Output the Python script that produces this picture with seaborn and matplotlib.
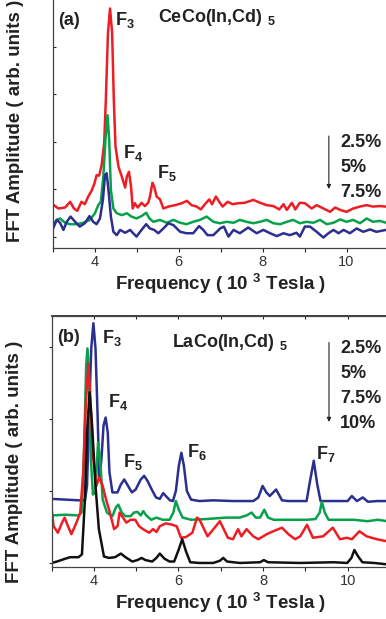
import matplotlib
matplotlib.use("Agg")
import matplotlib.pyplot as plt
import seaborn as sns

# ---- panel (a): CeCo(In,Cd)5, FFT spectra (freq in 10^3 T, amplitude in arb. units)
a_red_x = [3.00, 3.14, 3.30, 3.42, 3.51, 3.59, 3.69, 3.77, 3.85, 3.93, 4.00, 4.05, 4.11, 4.17,
           4.23, 4.27, 4.32, 4.37, 4.42, 4.46, 4.50, 4.57, 4.65, 4.73, 4.77, 4.82, 4.87, 4.91,
           4.96, 5.03, 5.12, 5.20, 5.28, 5.32, 5.38, 5.42, 5.48, 5.56, 5.64, 5.76, 5.92, 6.08,
           6.20, 6.31, 6.43, 6.53, 6.63, 6.73, 6.80, 6.89, 6.97, 7.05, 7.17, 7.29, 7.42, 7.58,
           7.78, 7.94, 8.10, 8.26, 8.40, 8.50, 8.58, 8.70, 8.78, 8.89, 9.01, 9.17, 9.29, 9.45,
           9.61, 9.73, 9.85, 10.00, 10.16, 10.32, 10.48, 10.63, 10.79, 10.94]
a_red_y = [0.69, 0.60, 0.62, 0.74, 0.60, 0.55, 0.74, 0.69, 0.85, 0.97, 1.13, 1.30, 1.29, 1.51,
           1.97, 2.88, 4.28, 4.80, 4.28, 2.88, 1.90, 1.48, 1.27, 1.04, 1.27, 1.37, 1.06, 0.60,
           0.71, 0.62, 0.72, 0.65, 0.72, 0.85, 1.14, 1.06, 0.85, 0.79, 0.60, 0.64, 0.67, 0.71,
           0.76, 0.67, 0.64, 0.58, 0.69, 0.79, 0.69, 0.85, 0.74, 0.64, 0.74, 0.69, 0.71, 0.72,
           0.78, 0.72, 0.67, 0.65, 0.58, 0.69, 0.57, 0.72, 0.58, 0.72, 0.71, 0.60, 0.67, 0.60,
           0.53, 0.62, 0.57, 0.53, 0.60, 0.64, 0.67, 0.64, 0.65, 0.64]

a_green_x = [3.00, 3.10, 3.18, 3.30, 3.42, 3.58, 3.73, 3.89, 4.01, 4.09, 4.15, 4.21, 4.26, 4.31,
             4.35, 4.39, 4.45, 4.53, 4.65, 4.77, 4.88, 5.00, 5.12, 5.23, 5.31, 5.40, 5.56, 5.72,
             5.88, 6.04, 6.19, 6.35, 6.51, 6.67, 6.83, 6.99, 7.15, 7.31, 7.46, 7.62, 7.78, 7.94,
             8.10, 8.26, 8.42, 8.58, 8.73, 8.89, 9.05, 9.21, 9.37, 9.53, 9.69, 9.85, 10.00,
             10.16, 10.32, 10.48, 10.63, 10.79, 10.94]
a_green_y = [0.23, 0.36, 0.39, 0.30, 0.27, 0.27, 0.30, 0.36, 0.50, 0.67, 0.74, 1.27, 2.04, 2.56,
             2.04, 0.99, 0.60, 0.50, 0.46, 0.50, 0.43, 0.39, 0.44, 0.51, 0.39, 0.32, 0.36, 0.30,
             0.36, 0.30, 0.27, 0.32, 0.36, 0.43, 0.32, 0.29, 0.32, 0.30, 0.36, 0.32, 0.29, 0.32,
             0.36, 0.29, 0.27, 0.32, 0.36, 0.29, 0.32, 0.30, 0.36, 0.27, 0.30, 0.37, 0.32,
             0.36, 0.29, 0.39, 0.32, 0.34, 0.30]

a_blue_x = [3.00, 3.10, 3.18, 3.26, 3.34, 3.43, 3.54, 3.65, 3.77, 3.88, 3.97, 4.05, 4.13, 4.20,
            4.25, 4.29, 4.34, 4.39, 4.45, 4.53, 4.61, 4.73, 4.85, 4.92, 5.00, 5.12, 5.23, 5.32,
            5.42, 5.52, 5.64, 5.76, 5.88, 6.04, 6.19, 6.35, 6.49, 6.59, 6.69, 6.83, 6.99, 7.08,
            7.19, 7.31, 7.46, 7.66, 7.86, 8.02, 8.18, 8.34, 8.50, 8.65, 8.81, 8.89, 9.01, 9.13,
            9.29, 9.45, 9.57, 9.69, 9.81, 9.93, 10.08, 10.24, 10.40, 10.56, 10.71, 10.94]
a_blue_y = [0.15, 0.36, 0.30, 0.15, 0.32, 0.43, 0.32, 0.22, 0.29, 0.44, 0.32, 0.27, 0.39, 0.78,
            1.30, 1.34, 0.92, 0.43, 0.11, 0.04, 0.15, 0.09, 0.15, 0.08, 0.01, 0.15, 0.27, 0.18,
            0.15, 0.08, 0.18, 0.29, 0.25, 0.11, 0.08, 0.08, 0.23, 0.15, 0.04, 0.04, 0.18, 0.22,
            0.01, 0.15, 0.08, 0.20, 0.08, 0.15, 0.08, 0.02, 0.08, 0.04, 0.09, 0.01, 0.22, 0.22,
            0.11, -0.01, 0.08, 0.15, 0.08, 0.15, 0.08, 0.18, 0.11, 0.16, 0.11, 0.15]

# ---- panel (b): LaCo(In,Cd)5
b_blue_x = [3.00, 3.33, 3.64, 3.79, 3.84, 3.90, 3.94, 3.99, 4.04, 4.09, 4.13, 4.18, 4.23, 4.28,
            4.33, 4.37, 4.44, 4.56, 4.64, 4.72, 4.79, 4.90, 4.99, 5.11, 5.19, 5.27, 5.37, 5.47,
            5.56, 5.64, 5.72, 5.80, 5.87, 5.94, 6.01, 6.07, 6.13, 6.20, 6.30, 6.50, 6.82, 7.29,
            7.77, 7.89, 7.99, 8.08, 8.16, 8.31, 8.45, 8.60, 9.03, 9.10, 9.20, 9.28, 9.36, 9.60,
            10.00, 10.10, 10.22, 10.36, 10.48, 10.70, 10.94]
b_blue_y = [0.89, 0.88, 0.87, 0.87, 1.07, 2.28, 2.98, 3.33, 2.98, 2.05, 1.16, 1.44, 1.91, 2.02,
            1.81, 1.26, 0.98, 0.98, 1.09, 1.16, 1.09, 0.98, 1.02, 1.16, 1.21, 1.14, 1.02, 0.91,
            0.89, 0.97, 0.92, 0.87, 0.86, 1.00, 1.35, 1.53, 1.35, 1.00, 0.88, 0.86, 0.87, 0.86,
            0.86, 0.91, 1.07, 0.98, 0.93, 1.02, 0.87, 0.86, 0.86, 1.10, 1.42, 1.10, 0.86, 0.86,
            0.86, 0.93, 0.86, 0.91, 0.85, 0.86, 0.86]

b_green_x = [3.00, 3.33, 3.64, 3.71, 3.76, 3.82, 3.85, 3.88, 3.93, 3.98, 4.04, 4.10, 4.15, 4.21,
             4.31, 4.44, 4.52, 4.58, 4.66, 4.75, 4.87, 4.95, 5.03, 5.11, 5.17, 5.24, 5.36, 5.48,
             5.63, 5.79, 5.88, 5.94, 6.01, 6.10, 6.30, 6.66, 7.13, 7.45, 7.61, 7.73, 7.83, 7.93,
             8.03, 8.12, 8.25, 8.49, 8.72, 9.04, 9.24, 9.34, 9.39, 9.46, 9.55, 9.83, 10.15,
             10.47, 10.71, 10.94]
b_green_y = [0.66, 0.67, 0.66, 0.70, 1.35, 2.74, 2.98, 2.74, 1.44, 0.95, 0.98, 1.67, 1.44, 0.88,
             0.70, 0.65, 0.77, 0.81, 0.70, 0.65, 0.65, 0.70, 0.71, 0.66, 0.72, 0.66, 0.60, 0.63,
             0.60, 0.60, 0.70, 0.86, 0.74, 0.63, 0.60, 0.61, 0.63, 0.63, 0.66, 0.70, 0.63, 0.63,
             0.74, 0.63, 0.60, 0.60, 0.60, 0.60, 0.61, 0.70, 0.85, 0.70, 0.60, 0.60, 0.60,
             0.58, 0.60, 0.58]

b_red_x = [3.00, 3.05, 3.15, 3.25, 3.31, 3.39, 3.47, 3.59, 3.68, 3.75, 3.81, 3.87, 3.92, 3.98,
           4.06, 4.13, 4.21, 4.29, 4.38, 4.48, 4.56, 4.61, 4.69, 4.77, 4.87, 4.98, 5.07, 5.19,
           5.31, 5.40, 5.48, 5.56, 5.70, 5.86, 5.96, 6.06, 6.18, 6.33, 6.44, 6.50, 6.69, 6.98,
           7.17, 7.29, 7.41, 7.49, 7.61, 7.77, 7.89, 8.09, 8.24, 8.45, 8.60, 8.76, 8.88, 9.04,
           9.18, 9.42, 9.65, 9.82, 9.98, 10.10, 10.28, 10.45, 10.69, 10.94]
b_red_y = [0.77, 0.51, 0.42, 0.56, 0.63, 0.51, 0.40, 0.56, 0.70, 1.26, 2.19, 2.77, 2.28, 1.49,
           1.07, 1.19, 1.07, 0.88, 0.70, 0.47, 0.51, 0.70, 0.63, 0.56, 0.60, 0.60, 0.51, 0.46,
           0.42, 0.47, 0.43, 0.51, 0.55, 0.53, 0.51, 0.35, 0.36, 0.42, 0.63, 0.60, 0.37, 0.58,
           0.35, 0.33, 0.47, 0.37, 0.47, 0.37, 0.33, 0.40, 0.44, 0.49, 0.40, 0.33, 0.37, 0.53,
           0.35, 0.37, 0.49, 0.33, 0.35, 0.33, 0.44, 0.37, 0.33, 0.30]

b_black_x = [3.00, 3.13, 3.33, 3.44, 3.64, 3.72, 3.79, 3.84, 3.90, 3.96, 4.04, 4.12, 4.24, 4.36,
             4.50, 4.64, 4.75, 4.91, 5.03, 5.13, 5.22, 5.38, 5.48, 5.56, 5.67, 5.79, 5.90, 6.01,
             6.09, 6.18, 6.28, 6.50, 6.82, 6.98, 7.06, 7.15, 7.45, 7.93, 8.02, 8.12, 8.88, 9.67,
             9.99, 10.09, 10.16, 10.25, 10.35, 10.63, 10.94]
b_black_y = [0.00, 0.02, 0.06, 0.08, 0.08, 0.12, 0.88, 1.81, 2.37, 1.91, 1.07, 0.47, 0.09, 0.07,
             0.08, 0.13, 0.08, 0.02, 0.04, 0.07, 0.04, 0.02, 0.07, 0.13, 0.06, 0.02, 0.02, 0.19,
             0.33, 0.16, 0.01, 0.00, 0.00, 0.03, 0.07, 0.02, 0.00, 0.01, 0.04, 0.01, 0.00, 0.01,
             0.00, 0.07, 0.18, 0.09, 0.01, 0.00, -0.02]

RED, GREEN, BLUE, BLACK = "#ee1d23", "#08a14b", "#2b2f8f", "#111111"

sns.set_theme(style="ticks")
plt.rcParams["font.family"] = ["Liberation Sans", "DejaVu Sans"]
plt.rcParams["mathtext.default"] = "regular"

fig = plt.figure(figsize=(3.86, 6.19), dpi=100)
ax_a = fig.add_axes([52.5 / 386, (619 - 248) / 619, 336 / 386, 250 / 619])
ax_b = fig.add_axes([51.5 / 386, (619 - 567) / 619, 338.4 / 386, 251 / 619])

for x, y, c in [(a_red_x, a_red_y, RED), (a_green_x, a_green_y, GREEN), (a_blue_x, a_blue_y, BLUE)]:
    sns.lineplot(x=x, y=y, color=c, linewidth=1.8, ax=ax_a)
for x, y, c in [(b_blue_x, b_blue_y, BLUE), (b_green_x, b_green_y, GREEN),
                (b_red_x, b_red_y, RED), (b_black_x, b_black_y, BLACK)]:
    sns.lineplot(x=x, y=y, color=c, linewidth=1.8, ax=ax_b)

xt = list(range(3, 12))
xtl = [str(v) if v % 2 == 0 else "" for v in xt]
lab = dict(fontsize=13.5, fontweight="bold", color="#222222")

for ax in (ax_a, ax_b):
    ax.set_xlim(3, 11)
    ax.set_xticks(xt)
    ax.set_xticklabels(xtl)
    ax.tick_params(axis="x", direction="out", length=3, width=0.8, labelsize=10.5,
                   labelcolor="#333333", pad=2)
    ax.set_yticklabels([])
    for s in ax.spines.values():
        s.set_linewidth(0.9)
        s.set_color("#444444")
    ax.set_xlabel("Frequency ( 10 $^{3}$ Tesla )", **lab, labelpad=2)
    ax.set_ylabel("FFT Amplitude ( arb. units )", **lab)

ax_a.set_ylim(-0.23, 5.02)
ax_a.set_yticks([0, 1, 2, 3, 4])
ax_a.tick_params(axis="y", direction="in", length=2, width=0.8)
ax_a.set_yticklabels([])
ax_a.spines["top"].set_visible(False)
ax_a.yaxis.set_label_coords(-0.085, 0.51)

ax_b.set_ylim(-0.056, 3.43)
ax_b.set_yticks([0, 1, 2, 3])
ax_b.tick_params(axis="y", direction="out", length=2, width=0.8)
ax_b.set_yticklabels([])
ax_b.yaxis.set_label_coords(-0.083, 0.42)
top = ax_b.secondary_xaxis("top")
top.set_xticks(xt)
top.set_xticklabels([])
top.tick_params(direction="in", length=2, width=0.8)

txt = dict(fontsize=13, fontweight="bold", color="#222222", va="baseline")

# panel (a) annotations
ax_a.text(3.13, 4.45, "(a)", **txt)
ax_a.text(4.49, 4.45, "F$_3$", **txt)
ax_a.text(5.51, 4.52, "CeCo(In,Cd) $_5$", **txt)
ax_a.text(4.68, 1.66, "F$_4$", **txt)
ax_a.text(5.49, 1.24, "F$_5$", **txt)
ax_a.annotate("", xy=(9.58, 0.95), xytext=(9.58, 2.18),
              arrowprops=dict(arrowstyle="-|>", color="#222222", lw=0.8, mutation_scale=6))
for lbl, yy in zip(["2.5%", "5%", "7.5%"], [1.89, 1.37, 0.85]):
    ax_a.text(9.85, yy, lbl, **txt)

# panel (b) annotations
ax_b.text(3.13, 3.07, "(b)", **txt)
ax_b.text(4.19, 3.06, "F$_3$", **txt)
ax_b.text(5.85, 3.00, "LaCo(In,Cd) $_5$", **txt)
ax_b.text(4.34, 2.17, "F$_4$", **txt)
ax_b.text(4.69, 1.33, "F$_5$", **txt)
ax_b.text(6.20, 1.47, "F$_6$", **txt)
ax_b.text(9.25, 1.44, "F$_7$", **txt)
ax_b.annotate("", xy=(9.56, 1.92), xytext=(9.56, 3.10),
              arrowprops=dict(arrowstyle="-|>", color="#222222", lw=0.8, mutation_scale=6))
for lbl, yy in zip(["2.5%", "5%", "7.5%", "10%"], [2.92, 2.57, 2.22, 1.88]):
    ax_b.text(9.82, yy, lbl, **txt)

fig.savefig("out.png", dpi=100)
